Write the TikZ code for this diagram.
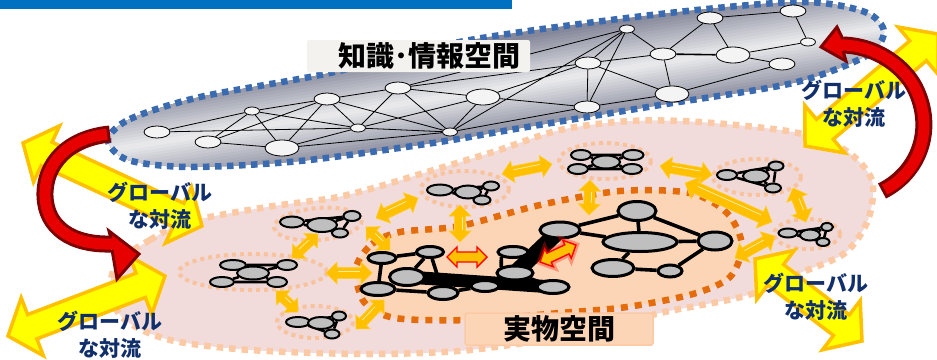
\documentclass[tikz,border=0pt]{standalone}
\usepackage{fontspec}
\newfontfamily\jpfont{Noto Sans CJK JP}
\usetikzlibrary{shapes.geometric}

\definecolor{bannerblue}{HTML}{0070C0}
\definecolor{infoblue}{HTML}{3A6BB0}
\definecolor{blobedge}{HTML}{85889A}
\definecolor{blobmid}{HTML}{EEEEF0}
\definecolor{nodewhite}{HTML}{F4F4F4}
\definecolor{nodegrey}{HTML}{BFBFBF}
\definecolor{zonepink}{HTML}{F2DCDB}
\definecolor{zonepeach}{HTML}{FBC9A3}
\definecolor{clusterpink}{HTML}{F0D8D6}
\definecolor{clusterline}{HTML}{F8C29C}
\definecolor{corepeach}{HTML}{FBD5B5}
\definecolor{coreorange}{HTML}{E46C0A}
\definecolor{flowyellow}{HTML}{FFFF00}
\definecolor{floworange}{HTML}{FFC000}
\definecolor{flownavy}{HTML}{112F6B}
\definecolor{arcred}{HTML}{E60000}
\definecolor{arcdark}{HTML}{7F0000}
\definecolor{boxwhite}{HTML}{F3F2EE}

\pgfdeclarelayer{back}
\pgfsetlayers{back,main}

\tikzset{
  inode/.style={ellipse, draw=black, fill=nodewhite, line width=0.8pt, inner sep=0pt},
  isml/.style={inode, minimum width=15pt, minimum height=8pt},
  imid/.style={inode, minimum width=26pt, minimum height=12pt},
  ibig/.style={inode, minimum width=34pt, minimum height=16pt},
  ilink/.style={line width=0.8pt},
  pnode/.style 2 args={ellipse, draw=black, fill=nodegrey, line width=2pt, inner sep=0pt,
    minimum width=#1pt, minimum height=#2pt},
  mnode/.style 2 args={pnode={#1}{#2}, line width=3pt},
  plink/.style={line width=2.6pt},
  mlink/.style={line width=3.6pt},
  band/.style={line width=#1, line cap=round},
  pinkzone/.style={fill=zonepink, draw=zonepeach, line width=6.5pt, dash pattern=on 6.5pt off 6pt},
  cluster/.style={fill=clusterpink, draw=clusterline, line width=4pt, dash pattern=on 4pt off 4pt},
  corezone/.style={fill=corepeach, draw=coreorange, line width=6.5pt, dash pattern=on 7pt off 7pt},
  infozone/.style={draw=infoblue, line width=6.5pt, dash pattern=on 6.5pt off 5.5pt},
  arrowbody/.style={},
  arrowstripe/.style={draw=none},
  bigflow/.style={arrowbody/.style={fill=flowyellow, draw=floworange, line width=3.5pt, line join=miter}},
  smallflow/.style={arrowbody/.style={fill=floworange, draw=floworange!80!white, line width=0.6pt},
    arrowstripe/.style={draw=floworange!35!white, line width=0.8pt}},
  hotflow/.style={arrowbody/.style={fill=floworange, draw=red, line width=1.4pt}},
  glowflow/.style={arrowbody/.style={draw=red!80!orange, line width=6pt, opacity=0.35}},
  arcouter/.style={draw=arcdark, line width=17pt},
  arcinner/.style={draw=arcred, line width=11pt, shorten <=3pt},
  archead/.style={fill=arcred, draw=arcdark, line width=3pt, line join=miter},
  flowtext/.style={font=\jpfont\bfseries\fontsize{21}{27}\selectfont, text=flownavy, align=center, inner sep=0pt},
  infotitle/.style={font=\jpfont\bfseries\fontsize{28}{32}\selectfont, inner sep=0pt},
  realtitle/.style={font=\jpfont\bfseries\fontsize{28}{32}\selectfont, fill=corepeach, draw=zonepeach,
    line width=1.5pt, rounded corners=2pt, minimum width=188pt, minimum height=32pt, inner sep=0pt}
}

% double headed block arrow: [style]{x1}{y1}{x2}{y2}{half shaft}{half head}{head length}
\newcommand\dblarrow[8][]{%
  \pgfmathsetmacro\arrang{atan2((#3)-(#5),(#4)-(#2))}%
  \pgfmathsetmacro\arrlen{veclen((#4)-(#2),(#5)-(#3))}%
  \begin{scope}[shift={(#2,#3)}, rotate=\arrang, y=1pt, #1]
    \path[arrowbody] (0,0) -- (#8,#7) -- (#8,#6) -- ({\arrlen-#8},#6) -- ({\arrlen-#8},#7)
      -- (\arrlen,0) -- ({\arrlen-#8},-#7) -- ({\arrlen-#8},-#6) -- (#8,-#6) -- (#8,-#7) -- cycle;
    \path[arrowstripe] ({#8+1},{0.35*#6}) -- ({\arrlen-#8-1},{0.35*#6});
  \end{scope}}

\begin{document}
\begin{tikzpicture}[x=1pt,y=-1pt]
\useasboundingbox (0,0) rectangle (937,359);

\begin{pgfonlayer}{back}
  % title bar
  \fill[bannerblue] (0,0) rectangle (512,8.5);
  % real space and its groups
  \path[pinkzone] plot[smooth cycle] coordinates {(118,262) (150,240) (187,222) (267,207) (333,198)
    (377,187) (427,172) (493,152) (560,130) (630,121) (700,122) (793,132) (845,150) (872,180)
    (868,220) (845,253) (800,273) (745,296) (660,313) (590,332) (470,350) (367,354) (250,350)
    (170,340) (125,320) (110,292)};
  \path[cluster] (253,272) ellipse (74 and 18);
  \path[cluster, rotate around={5:(318,224)}] (318,224) ellipse (44 and 16);
  \path[cluster] (315,322) ellipse (38 and 16);
  \path[cluster] (465,189) ellipse (44 and 18);
  \path[cluster] (605,161) ellipse (46 and 18);
  \path[cluster] (757,177) ellipse (44 and 18);
  \path[cluster] (807,234) ellipse (33 and 15);
  \path[corezone] plot[smooth cycle] coordinates {(356,268) (372,244) (400,232) (460,226) (540,205)
    (620,191) (690,193) (727,213) (742,245) (730,277) (693,294) (627,307) (560,313) (470,320)
    (395,318) (364,302)};
  % knowledge space, lighter along its middle
  \begin{scope}
    \clip plot[smooth cycle] coordinates {(108,140) (130,119) (200,97) (330,73) (470,40) (660,14)
      (800,2) (865,12) (884,32) (866,56) (793,83) (660,105) (527,127) (433,143) (300,161) (190,167) (128,160)};
    \begin{scope}[shift={(495,89)}, rotate=9]
      \foreach \v in {60,48,45,...,3} {
        \pgfmathtruncatemacro\mix{min(100,100*\v/48)}
        \fill[blobedge!\mix!blobmid] (-470,-\v) rectangle (470,\v);
      }
    \end{scope}
  \end{scope}
  \path[infozone] plot[smooth cycle] coordinates {(108,140) (130,119) (200,97) (330,73) (470,40) (660,14)
    (800,2) (865,12) (884,32) (866,56) (793,83) (660,105) (527,127) (433,143) (300,161) (190,167) (128,160)};
\end{pgfonlayer}

% knowledge network
\node[imid] (k1) at (157,132) {};
\node[imid] (k2) at (208,142) {};
\node[isml] (k3) at (252,111) {};
\node[ibig] (k4) at (282,148) {};
\node[imid] (k5) at (327,99) {};
\node[isml] (k6) at (358,128) {};
\node[imid] (k7) at (398,88) {};
\node[isml] (k8) at (450,132) {};
\node[ibig] (k9) at (483,97) {};
\node[imid] (k10) at (588,63) {};
\node[isml] (k11) at (627,29) {};
\node[imid] (k12) at (663,54) {};
\node[ibig] (k13) at (672,94) {};
\node[imid] (k14) at (587,107) {};
\node[imid] (k15) at (710,18) {};
\node[ibig] (k16) at (733,55) {};
\node[imid] (k17) at (793,11) {};
\node[isml] (k18) at (808,42) {};
\node[imid] (k19) at (782,64) {};

\begin{pgfonlayer}{back}
  \draw[ilink] (k1) -- (k3) (k1) -- (k6) (k6) -- (k8) (k2) -- (k3) (k2) -- (k5) (k2) -- (k4)
    (k3) -- (k4) (k3) -- (k6) (k3) -- (k5) (k5) -- (k4) (k5) -- (k6) (k5) -- (k7) (k5) -- (k8)
    (k4) -- (k6) (k4) -- (k8) (k6) -- (k7) (k6) -- (k9) (k7) -- (k8) (k7) -- (k9) (k8) -- (k9)
    (k7) -- (k10) (k7) -- (k11) (k9) -- (k10) (k9) -- (k14) (k8) -- (k14) (k8) -- (k11)
    (k10) -- (k11) (k10) -- (k12) (k10) -- (k14) (k10) -- (k13) (k11) -- (k12) (k11) -- (k14)
    (k12) -- (k15) (k12) -- (k13) (k15) -- (k16) (k15) -- (k17) (k16) -- (k18)
    (k16) -- (k19) (k17) -- (k18) (k13) -- (k19) (k14) -- (k13);
  \draw[ilink, line width=1.6pt] (k12) -- (k16);
\end{pgfonlayer}

\fill[boxwhite, rounded corners=2pt] (307,40) rectangle (530,72);
\node[infotitle] (infotitle) at (429,56) {知識･情報空間};

% small groups in real space
\node[pnode={26}{10}] (a1) at (233,265) {};
\node[pnode={20}{10}] (a2) at (287,265) {};
\node[pnode={32}{13}] (a3) at (253,273) {};
\node[pnode={24}{10}] (a4) at (222,282) {};
\node[pnode={20}{10}] (a5) at (277,282) {};

\node[pnode={24}{11}] (b1) at (292,222) {};
\node[pnode={30}{14}] (b2) at (322,225) {};
\node[pnode={17}{10}] (b3) at (352,216) {};
\node[pnode={16}{9}] (b4) at (340,233) {};

\node[pnode={24}{10}] (c1) at (298,322) {};
\node[pnode={26}{12}] (c2) at (321,323) {};
\node[pnode={14}{9}] (c3) at (339,316) {};
\node[pnode={15}{9}] (c4) at (332,334) {};

\node[pnode={26}{11}] (d1) at (440,190) {};
\node[pnode={26}{13}] (d2) at (468,192) {};
\node[pnode={16}{9}] (d3) at (491,186) {};
\node[pnode={17}{9}] (d4) at (482,200) {};

\node[pnode={20}{10}] (e1) at (581,155) {};
\node[pnode={21}{10}] (e2) at (633,155) {};
\node[pnode={28}{13}] (e3) at (606,162) {};
\node[pnode={20}{10}] (e4) at (578,169) {};
\node[pnode={20}{10}] (e5) at (632,169) {};

\node[pnode={20}{10}] (f1) at (727,175) {};
\node[pnode={26}{13}] (f2) at (756,176) {};
\node[pnode={15}{9}] (f3) at (776,166) {};
\node[pnode={16}{9}] (f4) at (773,188) {};

\node[pnode={19}{9}] (g1) at (788,233) {};
\node[pnode={20}{11}] (g2) at (810,235) {};
\node[pnode={12}{8}] (g3) at (827,227) {};
\node[pnode={13}{8}] (g4) at (823,242) {};

% main network in the core
\node[mnode={28}{11}] (h1) at (382,258) {};
\node[mnode={27}{11}] (h2) at (430,252) {};
\node[mnode={35}{17}] (h3) at (407,277) {};
\node[mnode={34}{13}] (h4) at (378,289) {};
\node[mnode={30}{13}] (h5) at (443,293) {};
\node[mnode={28}{11}] (h6) at (485,286) {};
\node[mnode={30}{11}] (h7) at (513,252) {};
\node[mnode={36}{14}] (h8) at (515,273) {};
\node[mnode={32}{13}] (h9) at (553,287) {};
\node[mnode={40}{16}] (h10) at (560,230) {};
\node[mnode={38}{19}] (h11) at (637,211) {};
\node[mnode={74}{19}] (h12) at (640,242) {};
\node[mnode={34}{18}] (h13) at (715,241) {};
\node[mnode={42}{17}] (h14) at (613,268) {};
\node[mnode={24}{12}] (h15) at (670,271) {};

\begin{pgfonlayer}{back}
  \draw[plink] (a1) -- (a2) (a4) -- (a5) (a1) -- (a3) (a2) -- (a3) (a3) -- (a4) (a3) -- (a5);
  \draw[plink] (b1) -- (b3) (b1) -- (b4) (b3) -- (b4) (b2) -- (b3) (b2) -- (b4);
  \draw[plink] (c1) -- (c3) (c1) -- (c4) (c3) -- (c4) (c2) -- (c3) (c2) -- (c4);
  \draw[plink] (d1) -- (d3) (d1) -- (d4) (d3) -- (d4) (d2) -- (d3) (d2) -- (d4);
  \draw[plink] (e1) -- (e2) (e4) -- (e5) (e1) -- (e3) (e2) -- (e3) (e3) -- (e4) (e3) -- (e5);
  \draw[plink] (f1) -- (f3) (f1) -- (f4) (f3) -- (f4) (f2) -- (f3) (f2) -- (f4);
  \draw[plink] (g1) -- (g3) (g1) -- (g4) (g3) -- (g4) (g2) -- (g3) (g2) -- (g4);
  \draw[band=13pt] (h3.center) -- (h9.center);
  \draw[band=16pt] (h8.center) -- (h10.center);
  \draw[mlink] (h1) -- (h2) (h1) -- (h4) (h2) -- (h3) (h2) -- (h5) (h4) -- (h5) (h5) -- (h6)
    (h6) -- (h9) (h8) -- (h9) (h10) -- (h11) (h11) -- (h12) (h11) -- (h13) (h12) -- (h13)
    (h12) -- (h14) (h14) -- (h15) (h15) -- (h13) (h10) -- (h12);
  \draw[mlink] (h7.south west) -- (h8.north west) (h7.south east) -- (h8.north east);
\end{pgfonlayer}

\node[realtitle] (realtitle) at (559,329) {実物空間};

% exchanges between the groups
\dblarrow[smallflow]{292}{258}{318}{234}{5}{10}{10}
\dblarrow[smallflow]{276}{291}{298}{312}{5}{10}{10}
\dblarrow[smallflow]{326}{273}{372}{273}{5.5}{11}{11}
\dblarrow[smallflow]{356}{329}{384}{300}{5}{10}{10}
\dblarrow[smallflow]{376}{218}{418}{198}{5.5}{11}{11}
\dblarrow[smallflow]{366}{227}{390}{250}{5}{10}{10}
\dblarrow[smallflow]{460}{205}{460}{242}{5.5}{11}{11}
\dblarrow[smallflow]{502}{174}{552}{164}{5.5}{11}{11}
\dblarrow[smallflow]{590}{180}{589}{215}{5.5}{11}{11}
\dblarrow[smallflow]{660}{166}{712}{175}{5.5}{11}{11}
\dblarrow[smallflow]{685}{183}{772}{222}{6}{12}{12}
\dblarrow[smallflow]{793}{188}{806}{222}{5.5}{11}{11}
\dblarrow[smallflow]{735}{258}{775}{236}{5.5}{11}{11}
\dblarrow[hotflow]{447}{257}{487}{257}{5}{10}{10}
\dblarrow[glowflow]{540}{262}{576}{245}{5}{10}{10}
\dblarrow[hotflow]{540}{262}{576}{245}{5}{10}{10}

% global convection
\dblarrow[bigflow]{23}{143}{202}{226}{13}{31}{26}
\dblarrow[bigflow]{8}{336}{165}{276}{13}{31}{26}
\dblarrow[bigflow]{805}{146}{938}{34}{13}{31}{26}
\dblarrow[bigflow]{755}{259}{862}{341}{13}{31}{26}

% curved arrows between the two spaces
\draw[arcouter] (110,134) .. controls (68,138) and (44,164) .. (45,196)
  .. controls (46,228) and (72,245) .. (111,244);
\filldraw[archead] (111,238.5) -- (109,231) -- (139,254) -- (117,279) -- (112,249.5);
\draw[arcinner] (110,134) .. controls (68,138) and (44,164) .. (45,196)
  .. controls (46,228) and (72,245) .. (111,244) -- (117,244.5);

\draw[arcouter] (882,191) .. controls (920,172) and (935,128) .. (915,88)
  .. controls (905,68) and (878,46) .. (843,45);
\filldraw[archead] (843,39.5) -- (837,27) -- (821,47) -- (846,61) -- (843,50.5);
\draw[arcinner] (882,191) .. controls (920,172) and (935,128) .. (915,88)
  .. controls (905,68) and (878,46) .. (843,45) -- (837,45);

\node[flowtext] (flownw) at (160,206) {グローバル\\な対流};
\node[flowtext] (flowsw) at (110,335) {グローバル\\な対流};
\node[flowtext] (flowne) at (854,104) {グローバル\\な対流};
\node[flowtext] (flowse) at (816,297) {グローバル\\な対流};
\end{tikzpicture}
\end{document}
